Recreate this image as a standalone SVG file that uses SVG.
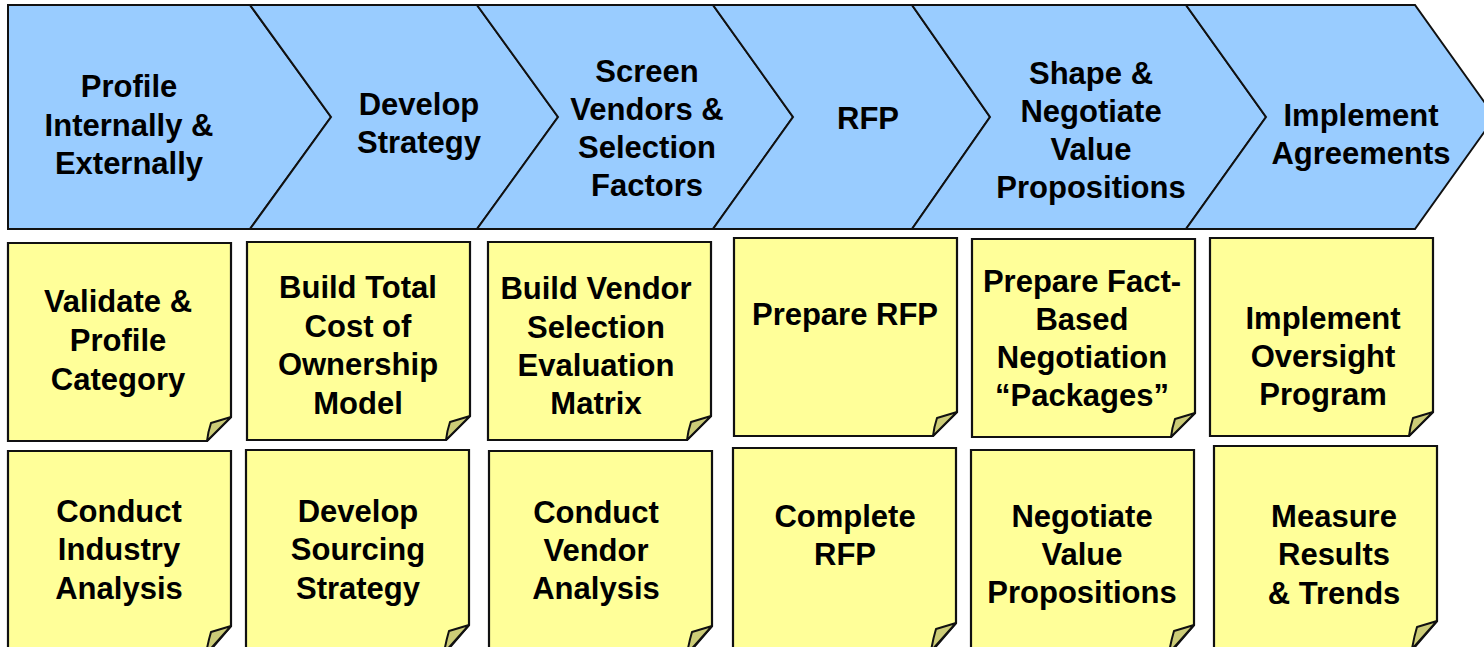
<svg xmlns="http://www.w3.org/2000/svg" xmlns:xlink="http://www.w3.org/1999/xlink" width="1484" height="647" viewBox="0 0 1484 647">
  <style>
    .phase { fill: #99CCFF; stroke: #111; stroke-width: 2; stroke-linejoin: miter; }
    .sheet { fill: #FFFF99; stroke: #111; stroke-width: 2.2; stroke-linejoin: miter; }
    .curl { fill: #CCCC77; stroke: #111; stroke-width: 2; stroke-linejoin: round; }
    text { font-family: "Liberation Sans", Arial, sans-serif; font-weight: bold; font-size: 31px; fill: #000; text-anchor: middle; }
  </style>
  <defs>
    <!-- sticky note body with a dog-eared lower right corner -->
    <path id="sheet" d="M0,0H223V174L199,198H0Z"/>
    <path id="curl" d="M223,174 L203,180 Q200,189 199,198Z"/>
    <!-- taller variant for the lower row, running off the bottom edge -->
    <path id="sheet-tall" d="M0,0H223V175L199,203H0Z"/>
    <path id="curl-tall" d="M223,175 L203,181 Q200,191 198,203Z"/>
  </defs>
  <rect width="1484" height="647" fill="#fff"/>

  <!-- process phases (chevrons) -->
  <g id="phase-1">
    <polygon class="phase" points="8,5 250,5 331,117 250,229 8,229"/>
    <text x="129" y="97">Profile</text>
    <text x="129" y="136">Internally &amp;</text>
    <text x="129" y="174">Externally</text>
  </g>
  <g id="phase-2">
    <polygon class="phase" points="250,5 477,5 558,117 477,229 250,229 331,117"/>
    <text x="419" y="115">Develop</text>
    <text x="419" y="153">Strategy</text>
  </g>
  <g id="phase-3">
    <polygon class="phase" points="477,5 713,5 793,117 713,229 477,229 558,117"/>
    <text x="647" y="82">Screen</text>
    <text x="647" y="120">Vendors &amp;</text>
    <text x="647" y="158">Selection</text>
    <text x="647" y="196">Factors</text>
  </g>
  <g id="phase-4">
    <polygon class="phase" points="713,5 912,5 990,117 912,229 713,229 793,117"/>
    <text x="868" y="129">RFP</text>
  </g>
  <g id="phase-5">
    <polygon class="phase" points="912,5 1186,5 1266,117 1186,229 912,229 990,117"/>
    <text x="1091" y="84">Shape &amp;</text>
    <text x="1091" y="122">Negotiate</text>
    <text x="1091" y="160">Value</text>
    <text x="1091" y="198">Propositions</text>
  </g>
  <g id="phase-6">
    <polygon class="phase" points="1186,5 1415,5 1495,117 1415,229 1186,229 1266,117"/>
    <text x="1361" y="126">Implement</text>
    <text x="1361" y="164">Agreements</text>
  </g>

  <!-- activity notes, first row -->
  <g id="note-validate">
    <use href="#sheet" class="sheet" x="8" y="243"/>
    <use href="#curl" class="curl" x="8" y="243"/>
    <text x="118" y="312">Validate &amp;</text>
    <text x="118" y="351">Profile</text>
    <text x="118" y="390">Category</text>
  </g>
  <g id="note-tco">
    <use href="#sheet" class="sheet" x="247" y="242"/>
    <use href="#curl" class="curl" x="247" y="242"/>
    <text x="358" y="298">Build Total</text>
    <text x="358" y="337">Cost of</text>
    <text x="358" y="375">Ownership</text>
    <text x="358" y="414">Model</text>
  </g>
  <g id="note-matrix">
    <use href="#sheet" class="sheet" x="488" y="242"/>
    <use href="#curl" class="curl" x="488" y="242"/>
    <text x="596" y="299">Build Vendor</text>
    <text x="596" y="338">Selection</text>
    <text x="596" y="376">Evaluation</text>
    <text x="596" y="414">Matrix</text>
  </g>
  <g id="note-prepare-rfp">
    <use href="#sheet" class="sheet" x="734" y="238"/>
    <use href="#curl" class="curl" x="734" y="238"/>
    <text x="845" y="325">Prepare RFP</text>
  </g>
  <g id="note-packages">
    <use href="#sheet" class="sheet" x="972" y="239"/>
    <use href="#curl" class="curl" x="972" y="239"/>
    <text x="1082" y="292">Prepare Fact-</text>
    <text x="1082" y="330">Based</text>
    <text x="1082" y="368">Negotiation</text>
    <text x="1082" y="406">“Packages”</text>
  </g>
  <g id="note-oversight">
    <use href="#sheet" class="sheet" x="1210" y="238"/>
    <use href="#curl" class="curl" x="1210" y="238"/>
    <text x="1323" y="329">Implement</text>
    <text x="1323" y="367">Oversight</text>
    <text x="1323" y="405">Program</text>
  </g>

  <!-- activity notes, second row -->
  <g id="note-industry">
    <use href="#sheet-tall" class="sheet" x="8" y="451"/>
    <use href="#curl-tall" class="curl" x="8" y="451"/>
    <text x="119" y="522">Conduct</text>
    <text x="119" y="560">Industry</text>
    <text x="119" y="599">Analysis</text>
  </g>
  <g id="note-sourcing">
    <use href="#sheet-tall" class="sheet" x="246" y="450"/>
    <use href="#curl-tall" class="curl" x="246" y="450"/>
    <text x="358" y="522">Develop</text>
    <text x="358" y="560">Sourcing</text>
    <text x="358" y="599">Strategy</text>
  </g>
  <g id="note-vendor">
    <use href="#sheet-tall" class="sheet" x="489" y="451"/>
    <use href="#curl-tall" class="curl" x="489" y="451"/>
    <text x="596" y="523">Conduct</text>
    <text x="596" y="561">Vendor</text>
    <text x="596" y="599">Analysis</text>
  </g>
  <g id="note-complete-rfp">
    <use href="#sheet-tall" class="sheet" x="733" y="448"/>
    <use href="#curl-tall" class="curl" x="733" y="448"/>
    <text x="845" y="527">Complete</text>
    <text x="845" y="565">RFP</text>
  </g>
  <g id="note-negotiate">
    <use href="#sheet-tall" class="sheet" x="971" y="450"/>
    <use href="#curl-tall" class="curl" x="971" y="450"/>
    <text x="1082" y="527">Negotiate</text>
    <text x="1082" y="565">Value</text>
    <text x="1082" y="603">Propositions</text>
  </g>
  <g id="note-measure">
    <use href="#sheet-tall" class="sheet" x="1214" y="446"/>
    <use href="#curl-tall" class="curl" x="1214" y="446"/>
    <text x="1334" y="527">Measure</text>
    <text x="1334" y="565">Results</text>
    <text x="1334" y="604">&amp; Trends</text>
  </g>

  <!-- no connectors: phases abut one another -->
  <g id="connectors"/>
</svg>
